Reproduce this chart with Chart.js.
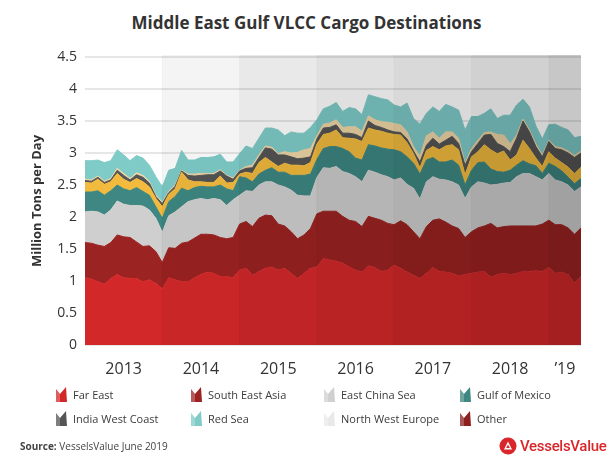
<!DOCTYPE html>
<html>
<head>
<meta charset="utf-8">
<script src="https://cdn.jsdelivr.net/npm/chart.js@4.4.1/dist/chart.umd.min.js"></script>
<style>
  body { margin: 0; width: 613px; height: 464px; background: #fff; overflow: hidden; position: relative; font-family: "Open Sans", sans-serif; color: #333; }
  #title { position: absolute; left: 0; width: 613px; top: 11px; text-align: center; font-size: 17px; font-weight: 700; color: #333; }
  #wrap { position: absolute; left: 0; top: 0; width: 613px; height: 387px; }
  #legend { position: absolute; left: 0; top: 384px; width: 613px; height: 50px; }
  .lg { position: absolute; font-size: 11px; color: #3a3a3a; white-space: nowrap; display: flex; align-items: center; }
  .lg svg { margin-right: 6px; }
  #source { position: absolute; left: 20px; top: 439px; font-size: 10px; color: #444; }
  #logo { position: absolute; left: 499px; top: 437px; display: flex; align-items: center; color: #d9262b; font-family: Roboto, sans-serif; font-size: 15px; font-weight: 500; letter-spacing: -0.3px; }
</style>
</head>
<body>
<div id="title">Middle East Gulf VLCC Cargo Destinations</div>
<div id="wrap"><canvas id="chart"></canvas></div>
<div id="legend"></div>
<div id="source"><b>Source:</b> VesselsValue June 2019</div>
<div id="logo">
  <svg width="18" height="18" viewBox="0 0 18 18" style="margin-right:3px"><circle cx="9" cy="9" r="8.5" fill="#d9262b"/><path d="M5 12.5 L9 4.5 L13 12.5 Z" fill="#fff"/><path d="M7.2 11 L9 7.5 L10.8 11 Z" fill="#d9262b"/></svg>
  VesselsValue
</div>
<script>
// monthly values, Jan 2013 - Jun 2019 (million tons per day)
const startYear = 2013;
const yearLabels = ['2013', '2014', '2015', '2016', '2017', '2018', '\u201919'];

const farEast = [1.05,1.03,0.99,0.95,1.04,1.10,1.05,1.04,1.04,0.99, 1.02,0.96,0.88,1.05,1.02,0.99,0.99,1.05,1.10,1.14, 1.12,1.07,1.07,1.05,1.17,1.20,1.09,1.15,1.20,1.22, 1.17,1.20,1.12,1.04,1.12,1.20,1.22,1.35,1.33,1.31, 1.28,1.22,1.17,1.14,1.24,1.21,1.15,1.17,1.25,1.20, 1.14,1.09,1.04,1.12,1.21,1.15,1.14,1.12,1.08,1.10, 1.12,1.14,1.15,1.06,1.10,1.12,1.10,1.12,1.15,1.15, 1.16,1.15,1.21,1.12,1.14,1.10,0.97,1.07];
const southEastAsia = [0.55,0.56,0.57,0.59,0.56,0.62,0.64,0.64,0.57,0.55, 0.53,0.50,0.41,0.47,0.49,0.60,0.62,0.62,0.63,0.59, 0.60,0.61,0.59,0.63,0.72,0.73,0.76,0.83,0.83,0.80, 0.72,0.66,0.65,0.62,0.60,0.62,0.83,0.74,0.76,0.78, 0.73,0.73,0.76,0.71,0.77,0.77,0.80,0.73,0.63,0.74, 0.74,0.68,0.62,0.73,0.74,0.82,0.78,0.74,0.74,0.58, 0.65,0.69,0.71,0.84,0.73,0.73,0.76,0.74,0.71,0.71, 0.70,0.74,0.74,0.76,0.74,0.73,0.76,0.76];
const eastChinaSea = [0.48,0.50,0.52,0.49,0.51,0.53,0.51,0.50,0.57,0.63, 0.56,0.52,0.47,0.50,0.57,0.57,0.63,0.60,0.56,0.54, 0.57,0.59,0.52,0.59,0.45,0.48,0.55,0.52,0.52,0.53, 0.61,0.61,0.65,0.68,0.61,0.51,0.57,0.68,0.67,0.70, 0.70,0.73,0.70,0.70,0.72,0.72,0.71,0.73,0.70,0.67, 0.63,0.68,0.62,0.70,0.68,0.62,0.66,0.69,0.68,0.61, 0.70,0.72,0.67,0.60,0.68,0.68,0.68,0.77,0.82,0.82, 0.77,0.69,0.73,0.70,0.67,0.67,0.67,0.64];
const gulfOfMexico = [0.31,0.30,0.33,0.31,0.30,0.25,0.24,0.23,0.28,0.23, 0.23,0.18,0.22,0.22,0.24,0.29,0.17,0.19,0.19,0.20, 0.18,0.23,0.26,0.14,0.29,0.20,0.15,0.17,0.18,0.22, 0.20,0.23,0.23,0.31,0.32,0.34,0.28,0.30,0.34,0.31, 0.36,0.34,0.29,0.34,0.40,0.41,0.42,0.43,0.47,0.41, 0.43,0.39,0.39,0.34,0.30,0.27,0.28,0.34,0.31,0.21, 0.26,0.30,0.33,0.25,0.20,0.17,0.19,0.18,0.20,0.15, 0.17,0.10,0.16,0.21,0.17,0.12,0.12,0.13];
const northWestEurope = [0.15,0.14,0.18,0.17,0.14,0.18,0.15,0.13,0.14,0.15, 0.13,0.13,0.18,0.11,0.12,0.25,0.17,0.09,0.07,0.07, 0.07,0.14,0.09,0.13,0.04,0.09,0.13,0.18,0.20,0.09, 0.09,0.14,0.16,0.16,0.15,0.18,0.24,0.22,0.21,0.26, 0.17,0.21,0.30,0.29,0.26,0.25,0.26,0.25,0.24,0.26, 0.22,0.15,0.10,0.15,0.17,0.19,0.25,0.24,0.24,0.16, 0.21,0.17,0.27,0.30,0.28,0.33,0.16,0.16,0.32,0.24, 0.12,0.11,0.18,0.13,0.13,0.16,0.16,0.18];
const indiaWestCoast = [0.03,0.03,0.03,0.03,0.03,0.05,0.06,0.04,0.06,0.07, 0.06,0.03,0.05,0.03,0.04,0.02,0.07,0.09,0.10,0.12, 0.12,0.08,0.11,0.05,0.05,0.06,0.09,0.08,0.15,0.20, 0.18,0.13,0.13,0.10,0.12,0.09,0.08,0.10,0.09,0.08, 0.07,0.08,0.07,0.06,0.11,0.07,0.06,0.05,0.04,0.04, 0.06,0.04,0.09,0.08,0.13,0.09,0.09,0.13,0.10,0.15, 0.08,0.13,0.15,0.24,0.16,0.07,0.13,0.26,0.30,0.26, 0.18,0.15,0.16,0.15,0.20,0.22,0.25,0.22];
const other = [0.02,0.02,0.02,0.02,0.02,0.03,0.03,0.02,0.03,0.03, 0.02,0.02,0.02,0.02,0.02,0.01,0.02,0.03,0.03,0.02, 0.02,0.02,0.01,0.02,0.01,0.03,0.04,0.04,0.03,0.03, 0.02,0.05,0.06,0.10,0.13,0.13,0.05,0.06,0.07,0.08, 0.09,0.10,0.12,0.10,0.08,0.09,0.09,0.12,0.13,0.12, 0.11,0.07,0.09,0.15,0.10,0.09,0.13,0.07,0.08,0.03, 0.05,0.05,0.04,0.04,0.14,0.18,0.12,0.05,0.03,0.03, 0.04,0.03,0.02,0.03,0.03,0.03,0.03,0.03];
const redSea = [0.29,0.30,0.25,0.29,0.28,0.29,0.29,0.28,0.27,0.27, 0.26,0.29,0.24,0.33,0.26,0.31,0.22,0.22,0.25,0.25, 0.26,0.24,0.21,0.25,0.26,0.32,0.26,0.26,0.28,0.30, 0.37,0.25,0.33,0.30,0.26,0.33,0.25,0.24,0.26,0.27, 0.25,0.30,0.28,0.26,0.33,0.36,0.36,0.35,0.29,0.28, 0.45,0.44,0.50,0.35,0.39,0.42,0.43,0.39,0.44,0.52, 0.50,0.37,0.30,0.36,0.25,0.31,0.45,0.47,0.31,0.36, 0.28,0.25,0.24,0.35,0.32,0.33,0.28,0.23];

// stacking order, bottom to top
const layers = [
    { label: 'Far East', data: farEast, color: '#d3282a' },
    { label: 'South East Asia', data: southEastAsia, color: '#9b2322' },
    { label: 'East China Sea', data: eastChinaSea, color: '#cfcfcf' },
    { label: 'Gulf of Mexico', data: gulfOfMexico, color: '#3e8782' },
    { label: 'North West Europe', data: northWestEurope, color: '#f2bb3e' },
    { label: 'India West Coast', data: indiaWestCoast, color: '#555555' },
    { label: 'Other', data: other, color: '#efd6a6' },
    { label: 'Red Sea', data: redSea, color: '#7ecbc8' }
];

// legend as printed under the chart
const legendItems = [
    ['Far East', '#d3282a'], ['South East Asia', '#9b2322'], ['East China Sea', '#d0d0d0'], ['Gulf of Mexico', '#3e8782'],
    ['India West Coast', '#555555'], ['Red Sea', '#7ecbc8'], ['North West Europe', '#e9e9e9'], ['Other', '#8e1f1f']
];

const n = farEast.length;
const yearShade = [0, 0.045, 0.085, 0.12, 0.15, 0.18, 0.22];

function yearRange(k) {
    const first = k * 12;
    return [first, Math.min(first + 12, n - 1)];
}

// darker band for each year drawn over the areas
const yearBands = {
    id: 'yearBands',
    afterDatasetsDraw(chart) {
        const { ctx, chartArea, scales } = chart;
        ctx.save();
        yearLabels.forEach((lab, k) => {
            const [a, b] = yearRange(k);
            const x1 = scales.x.getPixelForValue(a);
            const x2 = scales.x.getPixelForValue(b);
            ctx.fillStyle = 'rgba(0,0,0,' + yearShade[k] + ')';
            ctx.fillRect(x1, chartArea.top - 2, x2 - x1, chartArea.bottom - chartArea.top + 2);
            if (k > 0) {
                ctx.fillStyle = 'rgba(0,0,0,0.04)';
                ctx.fillRect(x1 - 0.5, chartArea.top - 2, 1, chartArea.bottom - chartArea.top + 2);
            }
        });
        ctx.restore();
    }
};

const ctx = document.getElementById('chart').getContext('2d');
new Chart(ctx, {
    type: 'line',
    data: {
        datasets: layers.map((l, i) => ({
            label: l.label,
            data: l.data.map((v, j) => ({ x: j, y: v })),
            backgroundColor: l.color,
            borderColor: l.color,
            borderWidth: 1,
            pointRadius: 0,
            tension: 0,
            fill: i === 0 ? 'origin' : '-1'
        }))
    },
    options: {
        responsive: true,
        maintainAspectRatio: false,
        animation: false,
        layout: { padding: { top: 57, right: 32, left: 0, bottom: 0 } },
        plugins: {
            legend: { display: false },
            tooltip: { enabled: false }
        },
        scales: {
            x: {
                type: 'linear',
                min: 0,
                max: n - 1,
                grid: { display: false },
                border: { display: false },
                afterBuildTicks(scale) {
                    scale.ticks = yearLabels.map((lab, k) => {
                        const [a, b] = yearRange(k);
                        return { value: (a + b) / 2 };
                    });
                },
                afterFit(scale) { scale.height = 42; },
                ticks: {
                    autoSkip: false,
                    maxRotation: 0,
                    padding: 7,
                    color: '#333',
                    font: { family: 'Open Sans', size: 16 },
                    callback(value) {
                        const k = Math.floor(value / 12);
                        return yearLabels[k];
                    }
                }
            },
            y: {
                stacked: true,
                min: 0,
                max: 4.5,
                grid: { color: '#e6e6e6', lineWidth: 2, drawTicks: false },
                border: { display: false },
                afterFit(scale) { scale.width = 85; },
                ticks: {
                    stepSize: 0.5,
                    padding: 8,
                    color: '#333',
                    font: { family: 'Open Sans', size: 14 },
                    callback(value) { return String(Math.round(value * 10) / 10); }
                },
                title: {
                    display: true,
                    text: 'Million Tons per Day',
                    color: '#333',
                    padding: { top: 29, bottom: 0 },
                    font: { family: 'Open Sans', size: 13, weight: 'bold' }
                }
            }
        }
    },
    plugins: [yearBands]
});

// legend
const legendEl = document.getElementById('legend');
const colX = [56, 191, 324, 460];
const rowY = [2, 26];
legendItems.forEach(([name, color], i) => {
    const el = document.createElement('div');
    el.className = 'lg';
    el.style.left = colX[i % 4] + 'px';
    el.style.top = rowY[Math.floor(i / 4)] + 'px';
    el.innerHTML = '<svg width="11" height="16" viewBox="0 0 11 16">' +
        '<path d="M0 16 L0 3 L4 8 L10 1 L11 16 Z" fill="' + color + '"/>' +
        '<path d="M0 16 L0 3 L4 8 L4 16 Z" fill="rgba(255,255,255,0.25)"/></svg>' + name;
    legendEl.appendChild(el);
});
</script>
</body>
</html>
